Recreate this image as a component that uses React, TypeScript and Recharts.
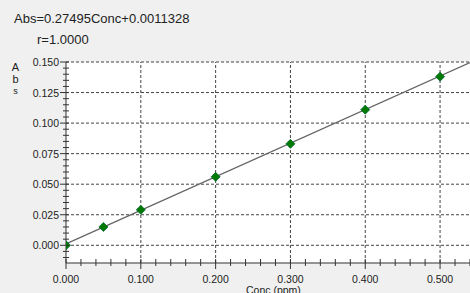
import React from 'react'
import { ScatterChart, Scatter, XAxis, YAxis, CartesianGrid, ReferenceLine } from 'recharts'

const concValues = [0, 0.05, 0.1, 0.2, 0.3, 0.4, 0.5]
const absValues = [0.0, 0.015, 0.029, 0.056, 0.083, 0.111, 0.138]

const xMajorTicks = [0.1, 0.2, 0.3, 0.4, 0.5]
const yMajorTicks = [0, 0.025, 0.05, 0.075, 0.1, 0.125, 0.15]
const xTicks = Array.from({ length: 28 }, (_, i) => +(i * 0.02).toFixed(2))
const yTicks = Array.from({ length: 33 }, (_, i) => +(-0.01 + i * 0.005).toFixed(3))

const fitLine = [{ x: 0, y: 0.0011 }, { x: 0.54, y: 0.1496 }]
const equationText = 'Abs=0.27495Conc+0.0011328'
const rText = 'r=1.0000'
const yLabelLetters = ['A', 'b', 's']

const points = concValues.map((c, i) => ({ x: c, y: absValues[i] }))

const FONT = '"Liberation Sans", Arial, sans-serif'
const AXIS = '#333'

const isMajor = (v: number, step: number) => Math.abs(v / step - Math.round(v / step)) < 1e-6

const XTick = (props: any) => {
  const { x, y, payload } = props
  const v = payload.value
  const major = isMajor(v, 0.1)
  return (
    <g>
      <line x1={x} x2={x} y1={y - 4} y2={y + (major ? 6 : 3)} stroke={AXIS} />
      {major && (
        <text x={x} y={y + 20} textAnchor="middle" fontSize={10.5} fontFamily={FONT} fill="#222">
          {v.toFixed(3)}
        </text>
      )}
    </g>
  )
}

const YTick = (props: any) => {
  const { x, y, payload } = props
  const v = payload.value
  const major = isMajor(v, 0.025)
  return (
    <g>
      <line x1={x - (major ? 6 : 3)} x2={x + 3} y1={y} y2={y} stroke={AXIS} />
      {major && (
        <text x={x - 7} y={y + 4} textAnchor="end" fontSize={10.5} fontFamily={FONT} fill="#222">
          {Math.abs(v).toFixed(3)}
        </text>
      )}
    </g>
  )
}

const Diamond = (props: any) => {
  const { cx, cy } = props
  const r = 4.5
  return (
    <polygon
      points={`${cx},${cy - r} ${cx + r},${cy} ${cx},${cy + r} ${cx - r},${cy}`}
      fill="#007a00"
      stroke="#063"
      strokeWidth={0.8}
    />
  )
}

const App = () => {
  return (
    <div style={{ position: 'fixed', left: 0, top: 0, width: 470, height: 293, background: '#f0f0f0', fontFamily: FONT, overflow: 'hidden' }}>
      <div style={{ position: 'absolute', left: 14, top: 11, fontSize: 13, color: '#222', whiteSpace: 'nowrap' }}>{equationText}</div>
      <div style={{ position: 'absolute', left: 37, top: 32, fontSize: 13, color: '#222', whiteSpace: 'nowrap' }}>{rText}</div>
      {yLabelLetters.map((ch, i) => (
        <div
          key={ch}
          style={{ position: 'absolute', left: 11, top: 61 + i * 12, width: 9, textAlign: 'center', fontSize: i === 2 ? 9 : 11, lineHeight: '12px', color: '#222' }}
        >
          {ch}
        </div>
      ))}
      <div style={{ position: 'absolute', left: 246, top: 284, fontSize: 10.5, color: '#222', whiteSpace: 'nowrap' }}>Conc (ppm)</div>
      <ScatterChart width={470} height={293} margin={{ top: 62, right: 0, left: 0, bottom: 0 }} style={{ position: 'absolute', left: 0, top: 0 }}>
        <CartesianGrid horizontal={false} vertical={false} fill="#fff" stroke="none" />
        <XAxis
          type="number"
          dataKey="x"
          domain={[0, 0.54]}
          ticks={xTicks}
          interval={0}
          allowDataOverflow
          height={30}
          tickSize={0}
          tickMargin={0}
          tickLine={false}
          axisLine={{ stroke: AXIS }}
          tick={<XTick />}
        />
        <YAxis
          type="number"
          dataKey="y"
          domain={[-0.0145, 0.15]}
          ticks={yTicks}
          interval={0}
          allowDataOverflow
          width={66}
          tickSize={0}
          tickMargin={0}
          tickLine={false}
          axisLine={{ stroke: AXIS }}
          tick={<YTick />}
        />
        {yMajorTicks.map((v) => (
          <ReferenceLine key={'h' + v} y={v} stroke="#444" strokeDasharray="3 2" />
        ))}
        {xMajorTicks.map((v) => (
          <ReferenceLine key={'v' + v} x={v} stroke="#444" strokeDasharray="3 2" />
        ))}
        <ReferenceLine segment={fitLine} stroke="#666" strokeWidth={1.3} ifOverflow="extendDomain" />
        <Scatter data={points} shape={<Diamond />} isAnimationActive={false} />
      </ScatterChart>
    </div>
  )
}

export default App
